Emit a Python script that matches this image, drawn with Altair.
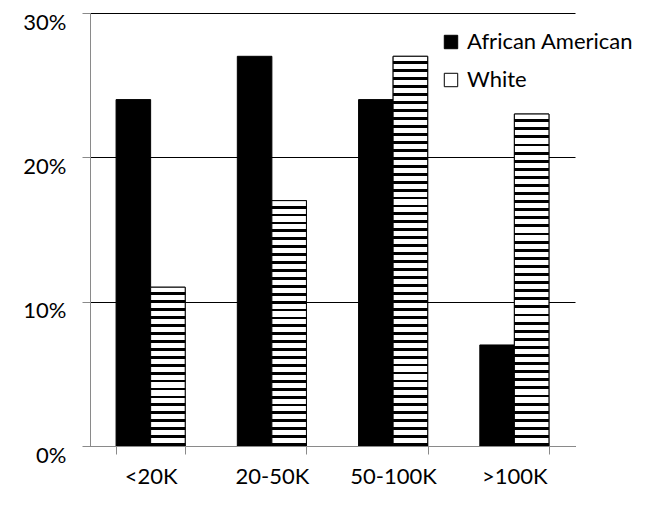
import altair as alt
import pandas as pd

categories = ["<20K", "20-50K", "50-100K", ">100K"]
series = ["African American", "White"]
african_american = [24, 27, 24, 7]
white = [11, 17, 27, 23]

rows = []
for c, a, w in zip(categories, african_american, white):
    rows.append({"Income": c, "Group": series[0], "Pct": a})
    rows.append({"Income": c, "Group": series[1], "Pct": w})
df = pd.DataFrame(rows)

W, H = 485, 433
YMAX = 30
FONT = "Lato"
FS = 22

x_enc = alt.X("Income:N", sort=categories, title=None,
              scale=alt.Scale(paddingInner=0.43, paddingOuter=0.215),
              axis=alt.Axis(labelAngle=0, labelFontSize=FS, labelFont=FONT, labelColor="black",
                            domainColor="#8a8a8a", tickColor="#8a8a8a", tickSize=8,
                            labelPadding=12, tickBand="extent", zindex=1))
xo_enc = alt.XOffset("Group:N", sort=series, scale=alt.Scale(paddingInner=0))
y_enc = alt.Y("Pct:Q", title=None, scale=alt.Scale(domain=[0, YMAX], nice=False),
              axis=alt.Axis(values=[0, 10, 20, 30], labelExpr="datum.value + '%'",
                            labelFontSize=FS, labelFont=FONT, labelColor="black",
                            labelBaseline="top", labelOffset=-1,
                            domainColor="#8a8a8a", tickColor="#8a8a8a", tickSize=8,
                            labelPadding=16, gridColor="black", gridOpacity=1, gridWidth=1))

base = alt.Chart(df).mark_bar(stroke="black", strokeWidth=1).encode(
    x=x_enc, xOffset=xo_enc, y=y_enc,
    color=alt.Color("Group:N", sort=series, title=None,
                    scale=alt.Scale(domain=series, range=["black", "white"]),
                    legend=alt.Legend(orient="none", legendX=350, legendY=18, padding=0,
                                      symbolType="square", symbolSize=180,
                                      symbolStrokeColor="black", symbolStrokeWidth=1,
                                      labelFontSize=FS, labelFont=FONT, labelColor="black",
                                      labelLimit=400, labelOffset=5, rowPadding=16))
)

layers = [base]
for c, w in zip(categories, white):
    px = w / YMAX * H
    n = max(1, round(px / 8))
    stops = []
    for k in range(n):
        a = k / n
        b = (k + 0.64) / n
        e = (k + 1) / n
        stops += [{"offset": a, "color": "white"}, {"offset": b, "color": "white"},
                  {"offset": b, "color": "black"}, {"offset": e, "color": "black"}]
    grad = {"gradient": "linear", "x1": 0, "y1": 0, "x2": 0, "y2": 1, "stops": stops}
    layer = alt.Chart(df).transform_filter(
        (alt.datum.Income == c) & (alt.datum.Group == "White")
    ).mark_bar(fill=grad, stroke="black", strokeWidth=1).encode(
        x=x_enc, xOffset=xo_enc, y=y_enc)
    layers.append(layer)

chart = alt.layer(*layers).properties(
    width=W, height=H,
    autosize=alt.AutoSizeParams(type="none"),
    padding={"left": 82, "top": 5, "right": 76, "bottom": 76},
).configure_view(stroke=None).configure_axisX(grid=False)

chart.save("out.html", embed_options={"renderer": "svg", "actions": False})
